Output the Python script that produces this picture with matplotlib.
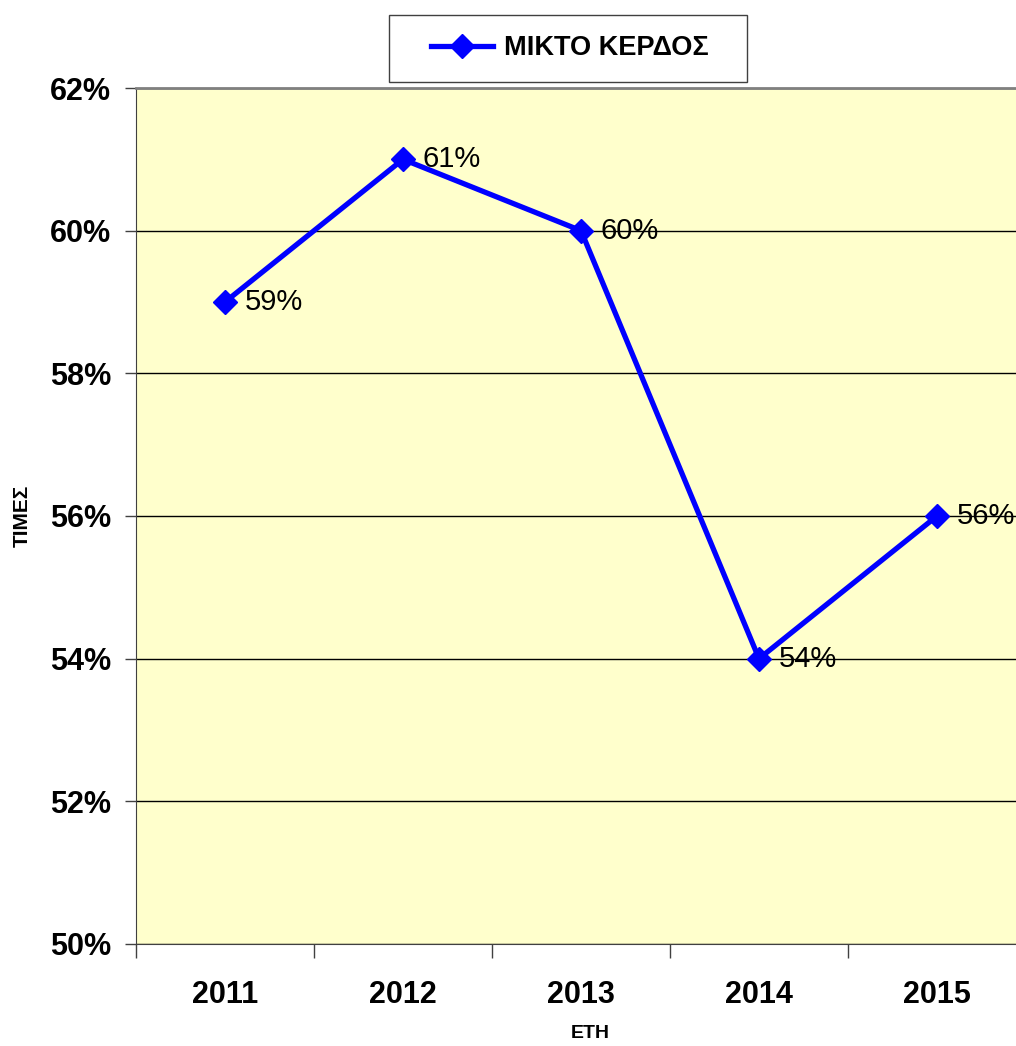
import matplotlib.pyplot as plt
from matplotlib.patches import Rectangle
from matplotlib.ticker import FixedLocator, NullFormatter

plt.rcParams['font.family'] = ['Liberation Sans', 'DejaVu Sans']

# data
years = ['2011', '2012', '2013', '2014', '2015']
gross_profit = [59, 61, 60, 54, 56]
y_ticks = [50, 52, 54, 56, 58, 60, 62]

W, H = 1016, 1046
fig = plt.figure(figsize=(W / 100, H / 100), dpi=100)
ax = fig.add_axes([136/W, 102/H, 890/W, 856/H])
ax.set_facecolor('#FFFFCC')

x = list(range(len(years)))
ax.plot(x, gross_profit, color='#0000FF', lw=3.8, marker='D', ms=12,
        label='ΜΙΚΤΟ ΚΕΡΔΟΣ', zorder=3, clip_on=False)

for xi, v in zip(x, gross_profit):
    ax.annotate(f'{v}%', (xi, v), xytext=(14, 0), textcoords='offset points',
                va='center', ha='left', fontsize=21, zorder=4)

ax.set_xlim(-0.5, len(years) - 0.5)
ax.set_ylim(50, 62)
ax.set_yticks(y_ticks)
ax.set_yticklabels([f'{t}%' for t in y_ticks], fontsize=22, fontweight='bold')
ax.yaxis.grid(True, color='black', lw=1)
ax.set_axisbelow(True)

ax.set_xticks(x)
ax.set_xticklabels(years, fontsize=22, fontweight='bold')
ax.tick_params(axis='x', which='major', length=0, pad=26)
ax.xaxis.set_minor_locator(FixedLocator([i - 0.5 for i in range(len(years) + 1)]))
ax.xaxis.set_minor_formatter(NullFormatter())
ax.tick_params(axis='x', which='minor', length=10, width=1, color='#404040')
ax.tick_params(axis='y', length=8, width=1, color='#404040', pad=10)

ax.spines['right'].set_visible(False)
ax.spines['top'].set_color('#808080')
ax.spines['top'].set_linewidth(2)
ax.spines['left'].set_color('#404040')
ax.spines['bottom'].set_color('#404040')

# axis titles
fig.text(22/W, 1 - 516/H, 'ΤΙΜΕΣ', rotation=90, ha='center', va='center',
         fontsize=15, fontweight='bold')
fig.text(590/W, 1 - 1034/H, 'ΕΤΗ', ha='center', va='center',
         fontsize=14, fontweight='bold')

# legend: box drawn separately so the side margins match
fig.patches.append(Rectangle((389/W, 1 - 82/H), 358/W, 67/H, transform=fig.transFigure,
                             facecolor='white', edgecolor='#404040', lw=1, zorder=1))
leg = fig.legend(loc='center', bbox_to_anchor=(570/W, 1 - 48/H),
                 prop={'weight': 'bold', 'size': 19.5}, frameon=False,
                 handlelength=2.3, handletextpad=0.4, borderaxespad=0)
leg.set_zorder(2)

fig.savefig('out.png', dpi=100)
